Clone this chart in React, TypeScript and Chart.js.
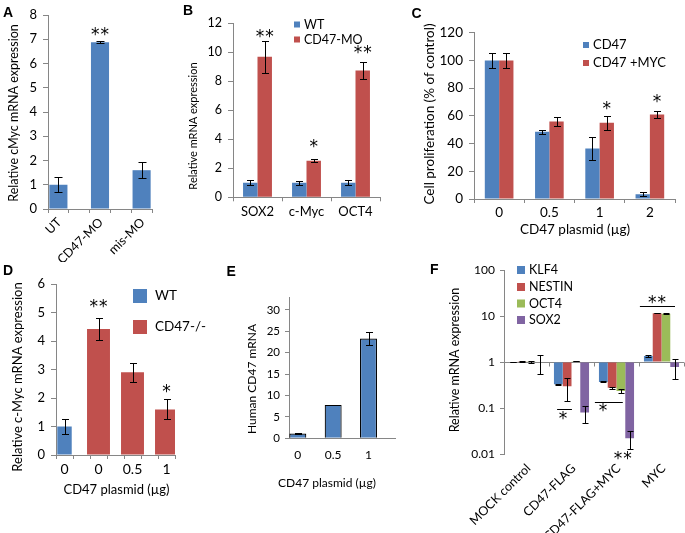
import React, { useEffect, useRef } from "react";
import { Chart, registerables } from "chart.js";
Chart.register(...registerables);

const FONT = "Lato, 'Open Sans', 'DejaVu Sans', sans-serif";
const STAR_FONT = "'DejaVu Sans', sans-serif";
const BLUE = "#4F81BD";
const RED = "#C0504D";
const GREEN = "#9BBB59";
const PURPLE = "#8064A2";
const AXIS = "#868686";
const TEXT = "#000000";

// ---------- Panel A ----------
const catsA = ["UT", "CD47-MO", "mis-MO"];
const valsA = [1.0, 6.88, 1.6];
const errA = [0.3, 0.04, 0.34];

// ---------- Panel B ----------
const catsB = ["SOX2", "c-Myc", "OCT4"];
const wtB = [1.0, 1.0, 1.0];
const wtErrB = [0.18, 0.15, 0.16];
const moB = [9.7, 2.52, 8.75];
const moErrB = [1.1, 0.1, 0.6];

// ---------- Panel C ----------
const catsC = ["0", "0.5", "1", "2"];
const cd47C = [100, 48.5, 36.5, 3.5];
const cd47ErrC = [5.5, 1.5, 8.5, 1.5];
const mycC = [100, 56, 55, 61];
const mycErrC = [5.5, 3.2, 5.2, 2.5];

// ---------- Panel D ----------
const catsD = ["0", "0", "0.5", "1"];
const wtD = [1.0, null, null, null];
const wtErrD = [0.28, null, null, null];
const koD = [null, 4.42, 2.9, 1.6];
const koErrD = [null, 0.38, 0.33, 0.35];

// ---------- Panel E ----------
const catsE = ["0", "0.5", "1"];
const valsE = [1.1, 7.8, 23.3];
const errE = [0.15, 0, 1.5];

// ---------- Panel F ----------
const catsF = ["MOCK control", "CD47-FLAG", "CD47-FLAG+MYC", "MYC"];
const klf4F = [1.0, 0.33, 0.37, 1.35];
const klf4ErrF = [0.01, 0.005, 0.01, 0.08];
const nestinF = [1.02, 0.3, 0.275, 11.6];
const nestinErrF = [0.02, 0.16, 0.01, 0.15];
const oct4F = [1.02, 1.05, 0.235, 11.3];
const oct4ErrF = [0.05, 0.01, 0.02, 0.15];
const sox2F = [1.0, 0.08, 0.022, 0.78];
const sox2ErrF = [0.46, 0.032, 0.009, 0.36];
const ticksF = [0.01, 0.1, 1, 10, 100];

// ---------- helpers ----------
type Box = { l: number; t: number; w: number; h: number };
type Area = { l: number; t: number; r: number; b: number };
type Mark = { ds?: number; i?: number; cat?: number; y: number; text: string };
type Line = { from: number; to: number; y: number };
type DecoText = { x: number; y: number; text: string; size: number; rotate?: boolean; align?: CanvasTextAlign };
type DecoSquare = { x: number; y: number; s: number; color: string };

function spread<T>(arr: T[], total: number, fill: any = null): any[] {
  const out: any[] = new Array(total).fill(fill);
  arr.forEach((v, i) => {
    out[i * 2] = v;
  });
  return out;
}

const errorBars = (cap: number) => ({
  id: "errorBars",
  afterDatasetsDraw(chart: any) {
    const ctx = chart.ctx;
    const ys = chart.scales.y;
    ctx.save();
    ctx.strokeStyle = "#000";
    ctx.lineWidth = 1;
    chart.data.datasets.forEach((ds: any, di: number) => {
      if (!ds.errors) return;
      const meta = chart.getDatasetMeta(di);
      meta.data.forEach((el: any, i: number) => {
        const v = ds.data[i];
        const e = ds.errors[i];
        if (v == null || e == null || e <= 0) return;
        const x = Math.round(el.x) + 0.5;
        const yTop = Math.round(ys.getPixelForValue(v + e)) + 0.5;
        const yBot = Math.round(ys.getPixelForValue(v - e)) + 0.5;
        ctx.beginPath();
        ctx.moveTo(x, yTop);
        ctx.lineTo(x, yBot);
        ctx.moveTo(x - cap, yTop);
        ctx.lineTo(x + cap, yTop);
        ctx.moveTo(x - cap, yBot);
        ctx.lineTo(x + cap, yBot);
        ctx.stroke();
      });
    });
    ctx.restore();
  },
});

const marksPlugin = (marks: Mark[], lines: Line[], size: number, gap: number) => ({
  id: "marks",
  afterDatasetsDraw(chart: any) {
    const ctx = chart.ctx;
    const xs = chart.scales.x;
    const ys = chart.scales.y;
    ctx.save();
    ctx.fillStyle = "#000";
    ctx.strokeStyle = "#000";
    ctx.lineWidth = 1;
    ctx.font = `${size}px ${STAR_FONT}`;
    ctx.textAlign = "center";
    ctx.textBaseline = "alphabetic";
    for (const m of marks) {
      const px = m.ds != null ? chart.getDatasetMeta(m.ds).data[m.i as number].x : xs.getPixelForValue(m.cat);
      const py = ys.getPixelForValue(m.y);
      const tm = ctx.measureText("*");
      const base = py + (tm.actualBoundingBoxAscent - tm.actualBoundingBoxDescent) / 2;
      const n = m.text.length;
      for (let k = 0; k < n; k++) {
        ctx.fillText("*", px + (k - (n - 1) / 2) * gap, base);
      }
    }
    for (const l of lines) {
      const y = Math.round(ys.getPixelForValue(l.y)) + 0.5;
      ctx.beginPath();
      ctx.moveTo(xs.getPixelForValue(l.from), y);
      ctx.lineTo(xs.getPixelForValue(l.to), y);
      ctx.stroke();
    }
    ctx.restore();
  },
});

const decoPlugin = (box: Box, texts: DecoText[], squares: DecoSquare[]) => ({
  id: "deco",
  afterDraw(chart: any) {
    const ctx = chart.ctx;
    ctx.save();
    ctx.translate(-box.l, -box.t);
    for (const s of squares) {
      ctx.fillStyle = s.color;
      ctx.fillRect(s.x, s.y, s.s, s.s);
    }
    ctx.fillStyle = TEXT;
    for (const t of texts) {
      ctx.save();
      ctx.font = `${t.size}px ${FONT}`;
      ctx.textBaseline = "middle";
      ctx.translate(t.x, t.y);
      if (t.rotate) ctx.rotate(-Math.PI / 2);
      ctx.textAlign = t.align || "center";
      ctx.fillText(t.text, 0, 0);
      ctx.restore();
    }
    ctx.restore();
  },
});

const unitAxis = {
  id: "unitAxis",
  beforeDatasetsDraw(chart: any) {
    const ctx = chart.ctx;
    const xs = chart.scales.x;
    const ys = chart.scales.y;
    const y = Math.round(ys.getPixelForValue(1)) + 0.5;
    const area = chart.chartArea;
    ctx.save();
    ctx.strokeStyle = AXIS;
    ctx.lineWidth = 1;
    ctx.beginPath();
    ctx.moveTo(area.left, y);
    ctx.lineTo(area.right, y);
    for (let i = 0; i <= chart.data.labels.length; i++) {
      const x = Math.round(xs.getPixelForValue(i - 0.5)) + 0.5;
      ctx.moveTo(x, y);
      ctx.lineTo(x, y + 4);
    }
    ctx.stroke();
    ctx.restore();
  },
};

function yLin(max: number, step: number, size: number, tickLen = 5, pad = 6) {
  return {
    type: "linear",
    min: 0,
    max,
    border: { color: AXIS, width: 1 },
    grid: { drawOnChartArea: false, drawTicks: true, tickLength: tickLen, color: AXIS },
    ticks: { stepSize: step, includeBounds: false, color: TEXT, padding: pad, font: { family: FONT, size } },
  };
}

function xCat(size: number, pad: number, rotation = 0, ticks = true, labelOffset = 0) {
  return {
    type: "category",
    offset: true,
    border: { color: AXIS, width: 1 },
    grid: { offset: true, drawOnChartArea: false, drawTicks: ticks, tickLength: 4, color: AXIS },
    ticks: {
      autoSkip: false,
      color: TEXT,
      padding: pad,
      labelOffset,
      maxRotation: rotation,
      minRotation: rotation,
      font: { family: FONT, size },
    },
  };
}

function makeConfig(p: {
  box: Box;
  area: Area;
  labels: string[];
  datasets: any[];
  x: any;
  y: any;
  texts: DecoText[];
  squares?: DecoSquare[];
  marks?: Mark[];
  lines?: Line[];
  markSize?: number;
  cap?: number;
  extra?: any[];
}) {
  const padding = { left: 0, top: p.area.t - p.box.t, right: p.box.l + p.box.w - p.area.r, bottom: 0 };
  const yWidth = p.area.l - p.box.l;
  const xHeight = p.box.t + p.box.h - p.area.b;
  return {
    type: "bar",
    data: { labels: p.labels, datasets: p.datasets },
    options: {
      responsive: false,
      animation: false,
      events: [],
      layout: { padding },
      plugins: { legend: { display: false }, tooltip: { enabled: false } },
      scales: {
        x: { ...p.x, afterFit: (s: any) => { s.height = xHeight; } },
        y: { ...p.y, afterFit: (s: any) => { s.width = yWidth; } },
      },
    },
    plugins: [
      ...(p.extra || []),
      errorBars(p.cap ?? 3.5),
      marksPlugin(p.marks || [], p.lines || [], p.markSize ?? 17, 9.5),
      decoPlugin(p.box, p.texts, p.squares || []),
    ],
  };
}

// ---------- panel configs ----------
const boxA: Box = { l: 0, t: 0, w: 165, h: 262 };
const areaA: Area = { l: 48, t: 15, r: 152, b: 209 };
const configA = () =>
  makeConfig({
    box: boxA,
    area: areaA,
    labels: spread(catsA, 5, ""),
    datasets: [
      { data: spread(valsA, 5), errors: spread(errA, 5), backgroundColor: BLUE, barPercentage: 0.87, categoryPercentage: 1 },
    ],
    x: xCat(12.5, 2, 45, true, 1),
    y: yLin(8, 1, 13),
    texts: [{ x: 14, y: 113, text: "Relative cMyc mRNA expression", size: 12.5, rotate: true }],
    marks: [{ ds: 0, i: 2, y: 7.3, text: "**" }],
    cap: 4,
  });

const boxB: Box = { l: 165, t: 0, w: 220, h: 235 };
const areaB: Area = { l: 233, t: 23.3, r: 380, b: 197.3 };
const configB = () =>
  makeConfig({
    box: boxB,
    area: areaB,
    labels: catsB,
    datasets: [
      { label: "WT", data: wtB, errors: wtErrB, backgroundColor: BLUE, barPercentage: 1, categoryPercentage: 0.59 },
      { label: "CD47-MO", data: moB, errors: moErrB, backgroundColor: RED, barPercentage: 1, categoryPercentage: 0.59 },
    ],
    x: xCat(13, 3),
    y: yLin(12, 2, 12.5),
    texts: [
      { x: 193, y: 126, text: "Relative mRNA expression", size: 11, rotate: true },
      { x: 304, y: 24.5, text: "WT", size: 12.5, align: "left" },
      { x: 304, y: 39.5, text: "CD47-MO", size: 12.5, align: "left" },
    ],
    squares: [
      { x: 294, y: 21.5, s: 6, color: BLUE },
      { x: 294, y: 36.5, s: 6, color: RED },
    ],
    marks: [
      { ds: 1, i: 0, y: 11.33, text: "**" },
      { ds: 1, i: 1, y: 3.74, text: "*" },
      { ds: 1, i: 2, y: 10.16, text: "**" },
    ],
  });

const boxC: Box = { l: 405, t: 0, w: 280, h: 245 };
const areaC: Area = { l: 474, t: 32.7, r: 675, b: 199 };
const configC = () =>
  makeConfig({
    box: boxC,
    area: areaC,
    labels: catsC,
    datasets: [
      { label: "CD47", data: cd47C, errors: cd47ErrC, backgroundColor: BLUE, barPercentage: 1, categoryPercentage: 0.57 },
      { label: "CD47 +MYC", data: mycC, errors: mycErrC, backgroundColor: RED, barPercentage: 1, categoryPercentage: 0.57 },
    ],
    x: xCat(13.5, 2),
    y: yLin(120, 20, 13.5),
    texts: [
      { x: 430, y: 114, text: "Cell proliferation (% of control)", size: 13.5, rotate: true },
      { x: 575, y: 230, text: "CD47 plasmid (µg)", size: 13.5 },
      { x: 593, y: 45, text: "CD47", size: 13, align: "left" },
      { x: 593, y: 63, text: "CD47 +MYC", size: 13, align: "left" },
    ],
    squares: [
      { x: 583, y: 42, s: 6, color: BLUE },
      { x: 583, y: 60, s: 6, color: RED },
    ],
    marks: [
      { ds: 1, i: 2, y: 67.6, text: "*" },
      { ds: 1, i: 3, y: 72.4, text: "*" },
    ],
  });

const boxD: Box = { l: 0, t: 262, w: 240, h: 271 };
const areaD: Area = { l: 56, t: 284, r: 175, b: 455 };
const configD = () =>
  makeConfig({
    box: boxD,
    area: areaD,
    labels: spread(catsD, 7, ""),
    datasets: [
      { label: "WT", data: spread(wtD, 7), errors: spread(wtErrD, 7), backgroundColor: BLUE, barPercentage: 0.85, categoryPercentage: 1, grouped: false },
      { label: "CD47-/-", data: spread(koD, 7), errors: spread(koErrD, 7), backgroundColor: RED, barPercentage: 1.35, categoryPercentage: 1, grouped: false },
    ],
    x: xCat(14, 1.6),
    y: yLin(6, 1, 13),
    texts: [
      { x: 18, y: 377, text: "Relative c-Myc mRNA expression", size: 13, rotate: true },
      { x: 116.5, y: 490, text: "CD47 plasmid (µg)", size: 13 },
      { x: 155, y: 296, text: "WT", size: 13.5, align: "left" },
      { x: 155, y: 327, text: "CD47-/-", size: 13.5, align: "left" },
    ],
    squares: [
      { x: 133, y: 289, s: 14, color: BLUE },
      { x: 133, y: 320, s: 14, color: RED },
    ],
    marks: [
      { ds: 1, i: 2, y: 5.31, text: "**" },
      { ds: 1, i: 6, y: 2.33, text: "*" },
    ],
  });

const boxE: Box = { l: 240, t: 262, w: 180, h: 271 };
const areaE: Area = { l: 289, t: 297, r: 395, b: 438.3 };
const configE = () =>
  makeConfig({
    box: boxE,
    area: areaE,
    labels: spread(catsE, 6, ""),
    datasets: [
      {
        data: spread(valsE, 6),
        errors: spread(errE, 6),
        backgroundColor: BLUE,
        borderColor: "#000",
        borderWidth: 1.2,
        barPercentage: 0.96,
        categoryPercentage: 1,
      },
    ],
    x: xCat(12, 9.5, 0, false),
    y: yLin(33, 5, 11.5, 4, 5),
    texts: [
      { x: 252, y: 379, text: "Human CD47 mRNA", size: 12, rotate: true },
      { x: 327, y: 483, text: "CD47 plasmid (µg)", size: 12 },
    ],
  });

const boxF: Box = { l: 430, t: 258, w: 255, h: 275 };
const areaF: Area = { l: 504, t: 267.3, r: 684, b: 454 };
const barF = { base: 1, barPercentage: 1, categoryPercentage: 0.78 };
const configF = () =>
  makeConfig({
    box: boxF,
    area: areaF,
    labels: catsF,
    datasets: [
      { label: "KLF4", data: klf4F, errors: klf4ErrF, backgroundColor: BLUE, ...barF },
      { label: "NESTIN", data: nestinF, errors: nestinErrF, backgroundColor: RED, ...barF },
      { label: "OCT4", data: oct4F, errors: oct4ErrF, backgroundColor: GREEN, ...barF },
      { label: "SOX2", data: sox2F, errors: sox2ErrF, backgroundColor: PURPLE, ...barF },
    ],
    x: {
      type: "category",
      offset: true,
      border: { display: false },
      grid: { display: false, drawTicks: false },
      ticks: {
        autoSkip: false,
        color: TEXT,
        padding: 7,
        labelOffset: 2,
        maxRotation: 45,
        minRotation: 45,
        font: { family: FONT, size: 12.5 },
      },
    },
    y: {
      type: "logarithmic",
      min: 0.01,
      max: 100,
      border: { color: AXIS, width: 1 },
      grid: { drawOnChartArea: false, drawTicks: true, tickLength: 4, color: AXIS },
      afterBuildTicks: (s: any) => {
        s.ticks = ticksF.map((v) => ({ value: v }));
      },
      ticks: { color: TEXT, padding: 5, font: { family: FONT, size: 12 }, callback: (v: any) => String(v) },
    },
    texts: [
      { x: 455, y: 360, text: "Relative mRNA expression", size: 12.5, rotate: true },
      { x: 529, y: 270, text: "KLF4", size: 12.5, align: "left" },
      { x: 529, y: 287, text: "NESTIN", size: 12.5, align: "left" },
      { x: 529, y: 303.5, text: "OCT4", size: 12.5, align: "left" },
      { x: 529, y: 320, text: "SOX2", size: 12.5, align: "left" },
    ],
    squares: [
      { x: 517, y: 266, s: 8, color: BLUE },
      { x: 517, y: 283, s: 8, color: RED },
      { x: 517, y: 299.5, s: 8, color: GREEN },
      { x: 517, y: 316, s: 8, color: PURPLE },
    ],
    marks: [
      { cat: 2.9, y: 23, text: "**" },
      { cat: 0.81, y: 0.068, text: "*" },
      { cat: 1.7, y: 0.102, text: "*" },
      { cat: 2.14, y: 0.0091, text: "**" },
    ],
    lines: [
      { from: 2.52, to: 3.3, y: 16.5 },
      { from: 0.68, to: 1.01, y: 0.097 },
      { from: 1.52, to: 2.14, y: 0.137 },
    ],
    cap: 3,
    extra: [unitAxis],
  });

function ChartCanvas({ box, make }: { box: Box; make: () => any }) {
  const ref = useRef<HTMLCanvasElement | null>(null);
  useEffect(() => {
    if (!ref.current) return;
    const chart = new Chart(ref.current, make() as any);
    return () => chart.destroy();
  }, []);
  return (
    <canvas
      ref={ref}
      width={box.w}
      height={box.h}
      style={{ position: "absolute", left: box.l, top: box.t, width: box.w, height: box.h, display: "block" }}
    />
  );
}

const letters = [
  { t: "A", x: 3, y: 5 },
  { t: "B", x: 183, y: 3 },
  { t: "C", x: 411.5, y: 5.5 },
  { t: "D", x: 3, y: 263 },
  { t: "E", x: 226.5, y: 264 },
  { t: "F", x: 430, y: 261.5 },
];

export default function App() {
  return (
    <div style={{ position: "absolute", left: 0, top: 0, width: 685, height: 533, background: "#fff", overflow: "hidden" }}>
      <ChartCanvas box={boxA} make={configA} />
      <ChartCanvas box={boxB} make={configB} />
      <ChartCanvas box={boxC} make={configC} />
      <ChartCanvas box={boxD} make={configD} />
      <ChartCanvas box={boxE} make={configE} />
      <ChartCanvas box={boxF} make={configF} />
      {letters.map((l) => (
        <div
          key={l.t}
          style={{
            position: "absolute",
            left: l.x,
            top: l.y,
            font: "bold 14px 'Liberation Sans', Arial, sans-serif",
            lineHeight: 1,
            color: "#000",
          }}
        >
          {l.t}
        </div>
      ))}
    </div>
  );
}
